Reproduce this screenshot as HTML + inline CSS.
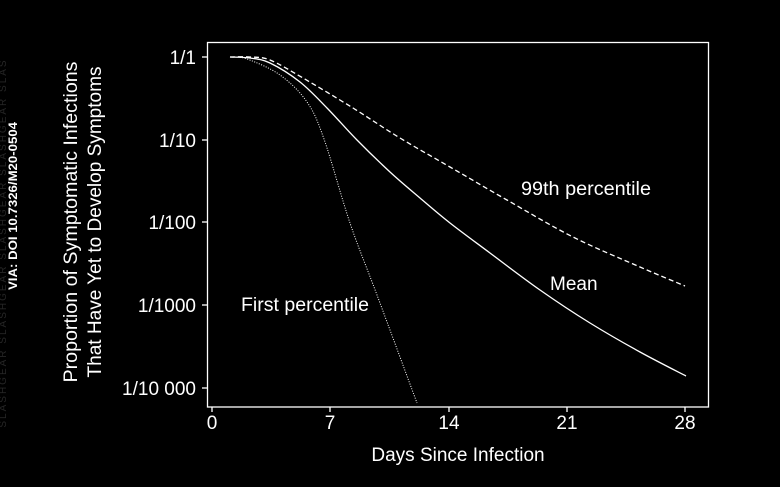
<!DOCTYPE html>
<html><head><meta charset="utf-8"><style>
html,body{margin:0;padding:0;background:#000;}
svg{display:block;}
text{font-family:"Liberation Sans",sans-serif;fill:#fff;}
</style></head><body>
<svg id="s" width="780" height="487" viewBox="0 0 780 487" xmlns="http://www.w3.org/2000/svg">
<rect width="780" height="487" fill="#000"/>
<text transform="translate(6,243) rotate(-90)" font-size="10" style="fill:#262626" text-anchor="middle" letter-spacing="2">SLASHGEAR SLASHGEAR SLASHGEAR SLASHGEAR SLAS</text>
<text transform="translate(17,206) rotate(-90)" font-size="12" font-weight="bold" text-anchor="middle" textLength="168" lengthAdjust="spacingAndGlyphs">VIA: DOI 10.7326/M20-0504</text>
<text transform="translate(77,222) rotate(-90)" font-size="19" text-anchor="middle" textLength="321" lengthAdjust="spacingAndGlyphs">Proportion of Symptomatic Infections</text>
<text transform="translate(101,222) rotate(-90)" font-size="19" text-anchor="middle" textLength="311" lengthAdjust="spacingAndGlyphs">That Have Yet to Develop Symptoms</text>
<rect x="207.5" y="42.5" width="501" height="364.5" fill="none" stroke="#fff" stroke-width="1.3"/>
<g stroke="#fff" stroke-width="1.3">
<line x1="202" y1="57" x2="207" y2="57"/><line x1="202" y1="140" x2="207" y2="140"/><line x1="202" y1="222" x2="207" y2="222"/><line x1="202" y1="305" x2="207" y2="305"/><line x1="202" y1="388" x2="207" y2="388"/>
<line x1="212" y1="407" x2="212" y2="412"/><line x1="330" y1="407" x2="330" y2="412"/><line x1="449" y1="407" x2="449" y2="412"/><line x1="567" y1="407" x2="567" y2="412"/><line x1="685" y1="407" x2="685" y2="412"/>
</g>
<g font-size="19" text-anchor="end">
<text x="196" y="64">1/1</text><text x="196" y="147">1/10</text><text x="196" y="229">1/100</text><text x="196" y="312">1/1000</text><text x="196" y="395">1/10 000</text>
</g>
<g font-size="19" text-anchor="middle">
<text x="212" y="429">0</text><text x="330" y="429">7</text><text x="449" y="429">14</text><text x="567" y="429">21</text><text x="685" y="429">28</text>
<text x="458" y="461">Days Since Infection</text>
</g>
<g fill="none" stroke="#fff" stroke-width="1.3">
<path id="m"/>
<path id="d" stroke-dasharray="5,3"/>
<path id="f" stroke-dasharray="1,1.5" stroke-width="1"/>
</g>
<g font-size="19">
<text x="521" y="195" textLength="130" lengthAdjust="spacingAndGlyphs">99th percentile</text>
<text x="550" y="290">Mean</text>
<text x="241" y="311" textLength="128" lengthAdjust="spacingAndGlyphs">First percentile</text>
</g>
</svg>
<script>
function cr(p){let d="M"+p[0][0]+","+p[0][1];for(let i=0;i<p.length-1;i++){const a=p[i-1]||p[i],b=p[i],c=p[i+1],e=p[i+2]||c;d+=" C"+(b[0]+(c[0]-a[0])/6).toFixed(1)+","+(b[1]+(c[1]-a[1])/6).toFixed(1)+" "+(c[0]-(e[0]-b[0])/6).toFixed(1)+","+(c[1]-(e[1]-b[1])/6).toFixed(1)+" "+c[0]+","+c[1];}return d;}
document.getElementById("m").setAttribute("d",cr([[230,57],[250,58],[270,63],[300,82],[327,108],[357,140],[390,172],[420,198],[450,223],[490,253],[540,290],[590,323],[640,352],[686,376]]));
document.getElementById("d").setAttribute("d",cr([[230,57],[250,57],[270,60],[303,78],[353,108],[400,138],[450,167],[507,200],[573,237],[640,267],[685,286]]));
document.getElementById("f").setAttribute("d",cr([[230,57],[247,59],[280,75],[307,102],[324,139],[350,223],[377,295],[417,403]]));
</script>
</body></html>
